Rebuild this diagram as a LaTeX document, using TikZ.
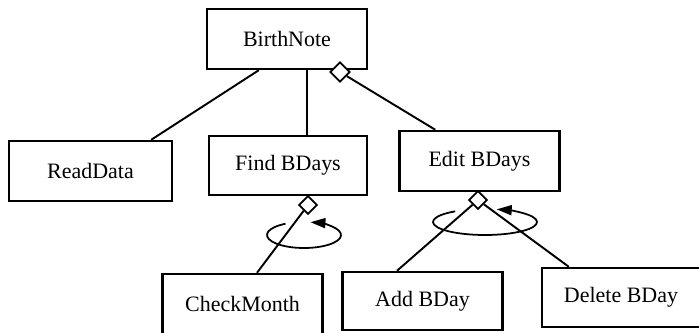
\documentclass[tikz,border=0pt]{standalone}
\usepackage{fontspec}
\setmainfont{Liberation Serif}
\usetikzlibrary{arrows.meta,calc,shapes.geometric}

\begin{document}
\begin{tikzpicture}[>=Stealth,
  module/.style={draw,line width=1.4pt,minimum width=3.2cm,minimum height=1.2cm,
    font=\fontsize{12.5}{15}\selectfont},
  agg/.style={diamond,draw,fill=white,line width=1pt,inner sep=0pt,minimum size=0.37cm},
  link/.style={line width=1.1pt},
  iter/.style={line width=1pt,-{Triangle[length=3mm,width=2mm]}}]
  \useasboundingbox (0,0) rectangle (13.98,6.64);
  % modules
  \node[module] (birth) at (5.74,5.86) {BirthNote};
  \node[module,minimum width=3.26cm] (read) at (1.81,3.22) {ReadData};
  \node[module,minimum width=3.16cm,minimum height=1.18cm] (find) at (5.76,3.33) {Find BDays};
  \node[module] (edit) at (9.59,3.42) {Edit BDays};
  \node[module] (check) at (4.85,0.56) {CheckMonth};
  \node[module,minimum height=1.16cm] (add) at (8.45,0.62) {Add BDay};
  \node[module,minimum width=3.16cm,minimum height=1.18cm] (delete) at (12.42,0.69) {Delete BDay};
  % aggregation diamonds
  \node[agg,minimum size=0.4cm] (d1) at (6.80,5.20) {};
  \node[agg] (d2) at (6.16,2.54) {};
  \node[agg] (d3) at (9.56,2.64) {};
  % links
  \draw[link] ($(birth.south west)+(1.06,0)$) -- ($(read.north east)+(-0.44,0)$);
  \coordinate (bf) at ($(birth.south)+(0.4,0)$);
  \draw[link] (bf) -- (bf |- find.north);
  \draw[link] (d1) -- ($(edit.north west)+(0.74,0)$);
  \draw[link] (d2) -- ($(check.north)+(0.29,0)$);
  \draw[link] (d3) -- ($(add.north)+(-0.51,0)$);
  \draw[link] (d3) -- ($(delete.north west)+(0.56,0)$);
  % iteration loops
  \draw[iter] ($(d2)+(-0.08,-0.6)$) ++(120:0.74 and 0.26)
    arc[start angle=120,end angle=440,x radius=0.74,y radius=0.26];
  \draw[iter] ($(d3)+(0.14,-0.44)$) ++(125:1.04 and 0.26)
    arc[start angle=125,end angle=437,x radius=1.04,y radius=0.26];
\end{tikzpicture}
\end{document}
